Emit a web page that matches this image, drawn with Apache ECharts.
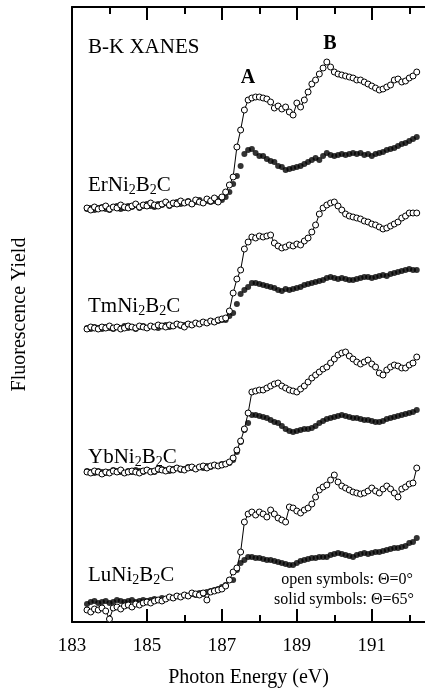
<!DOCTYPE html>
<html>
<head>
<meta charset="utf-8">
<title>B-K XANES</title>
<script src="https://cdn.jsdelivr.net/npm/echarts@6/dist/echarts.min.js"></script>
<style>
html, body { margin: 0; padding: 0; background: #fff; }
#chart { width: 425px; height: 700px; }
</style>
</head>
<body>
<div id="chart"></div>
<script>
// photon energy grid (eV)
var ENERGY = [183.4,183.5,183.6,183.7,183.8,183.9,184.0,184.1,184.2,184.3,184.4,184.5,184.6,184.7,184.8,184.9,
	185.0,185.1,185.2,185.3,185.4,185.5,185.6,185.7,185.8,185.9,186.0,186.1,186.2,186.3,186.4,186.5,186.6,186.7,186.8,186.9,
	187.0,187.1,187.2,187.3,187.4,187.5,187.6,187.7,187.8,187.9,188.0,188.1,188.2,188.3,188.4,188.5,188.6,188.7,188.8,188.9,
	189.0,189.1,189.2,189.3,189.4,189.5,189.6,189.7,189.8,189.9,190.0,190.1,190.2,190.3,190.4,190.5,190.6,190.7,190.8,190.9,
	191.0,191.1,191.2,191.3,191.4,191.5,191.6,191.7,191.8,191.9,192.0,192.1,192.2];

// fluorescence yield, arb. units, spectra shifted vertically
var ER_OPEN = [414,412,415,413,414,416,413,415,414,417,415,414,416,418,415,417,416,419,417,416,418,420,417,419,418,421,419,420,418,422,420,419,423,421,424,420,425,
	430,437,445,475,492,512,522,524,525,525,524,523,520,514,516,513,515,510,507,519,515,522,530,538,542,548,554,560,555,550,548,547,546,545,544,542,542,540,538,536,534,532,533,535,537,542,543,540,541,544,546,550];
var ER_SOLID = [413,414,412,414,415,413,412,415,416,413,414,416,415,417,414,416,418,416,415,418,417,419,416,418,420,418,419,421,418,420,422,419,421,420,421,423,422,
	425,430,438,446,456,468,472,473,469,466,466,463,461,460,456,455,452,453,454,455,456,458,460,462,464,462,466,469,467,466,467,468,467,468,469,468,469,467,468,466,468,469,470,472,473,474,476,478,479,481,483,485];
var TM_OPEN = [293,295,294,293,295,294,296,294,295,293,294,296,295,294,296,295,294,296,295,297,296,295,297,296,298,297,295,298,297,299,298,300,299,301,300,302,303,
	304,311,329,343,352,373,380,385,384,386,385,386,387,379,376,374,375,377,376,378,377,381,384,390,397,408,414,417,419,420,416,412,408,406,405,404,403,401,400,398,397,395,393,394,396,398,400,404,406,409,409,409];
var TM_SOLID = [294,293,295,294,293,295,294,293,295,294,296,294,295,293,295,296,294,296,295,294,296,297,295,296,298,296,297,298,297,299,298,300,299,301,300,301,302,
	302,306,309,318,328,332,335,339,339,338,337,336,335,334,332,331,333,332,333,334,335,337,338,339,340,341,342,344,345,344,343,344,343,342,342,343,344,345,345,344,345,346,347,346,348,349,350,351,352,353,352,352];
var YB_OPEN = [150,149,151,150,148,150,149,151,150,152,149,150,151,150,149,151,152,150,151,153,152,151,153,152,154,153,152,154,155,153,155,156,154,156,157,156,157,
	158,160,164,172,181,193,209,230,231,232,232,234,236,238,239,236,234,232,231,230,233,236,240,244,247,250,253,255,259,263,267,269,270,266,263,260,258,260,262,258,255,249,247,252,255,257,256,254,254,257,259,265];
var YB_SOLID = [151,150,149,151,150,149,150,152,151,150,149,151,150,152,151,150,152,151,150,152,153,152,151,153,154,152,153,155,154,153,155,154,156,155,157,156,158,
	158,159,162,170,180,192,199,207,207,206,205,204,202,200,199,196,193,191,190,191,192,193,193,194,196,199,201,203,204,205,206,207,206,205,204,204,203,202,202,201,200,200,201,203,204,205,206,207,208,209,210,212];
var LU_OPEN = [12,10,13,12,14,11,3,14,15,13,16,17,15,18,17,19,20,19,21,22,21,23,25,24,26,25,27,26,29,28,27,29,22,30,31,32,33,
	36,42,50,54,70,100,108,110,107,110,108,105,112,108,104,102,100,115,114,111,109,112,114,118,125,132,135,137,142,147,140,136,134,132,130,129,128,129,131,134,131,129,133,136,133,129,125,133,135,138,139,154];
var LU_SOLID = [18,20,21,19,20,21,19,20,22,21,20,21,22,20,21,22,21,22,23,22,24,23,25,24,26,25,27,26,28,27,29,28,30,31,32,33,35,
	37,42,42,52,59,62,65,65,64,64,63,62,62,61,60,59,58,57,57,59,61,62,63,64,64,65,65,65,67,68,69,68,67,66,65,67,68,69,68,69,70,70,71,72,73,74,74,75,76,79,80,84];

var MAJOR_TICKS = [183, 185, 187, 189, 191];
var MINOR_TICKS = [184, 186, 188, 190, 192];
var X_MIN = 183;
var X_MAX = 192.42;

var SERIF = "'Liberation Serif', 'DejaVu Serif', serif";

function pairs(values)
{
	return ENERGY.map(function(e, i){ return [e, values[i]]; });
}

function openSeries(values)
{
	return {
		type: "line",
		data: pairs(values),
		symbol: "circle",
		symbolSize: 6,
		showSymbol: true,
		showAllSymbol: true,
		itemStyle: { color: "#fff", borderColor: "#000", borderWidth: 1 },
		lineStyle: { color: "#000", width: 1 },
		z: 3
	};
}

function solidSeries(values)
{
	return {
		type: "scatter",
		data: pairs(values),
		symbol: "circle",
		symbolSize: 6,
		itemStyle: { color: "#000" },
		z: 2
	};
}

function xAxis(position, ticks, len, withLabels)
{
	return {
		type: "value",
		position: position,
		min: X_MIN,
		max: X_MAX,
		axisLine: { show: withLabels !== null, onZero: false, lineStyle: { color: "#000", width: 2 } },
		axisTick: { show: true, inside: true, length: len, customValues: ticks, lineStyle: { color: "#000", width: 2 } },
		axisLabel: withLabels ? { show: true, customValues: ticks, margin: 15, color: "#000", fontSize: 19, fontFamily: SERIF } : { show: false },
		splitLine: { show: false }
	};
}

function compound(el, y)
{
	return {
		type: "text",
		x: 88,
		y: y,
		style: {
			text: "{n|" + el + "Ni}{s|2}{n|B}{s|2}{n|C}",
			verticalAlign: "middle",
			rich: {
				n: { fontSize: 21, fontFamily: SERIF, fill: "#000" },
				s: { fontSize: 14, fontFamily: SERIF, fill: "#000", padding: [10, 0, 0, 0] }
			}
		}
	};
}

function note(text, x, y, opts)
{
	opts = opts || {};
	return {
		type: "text",
		x: x,
		y: y,
		style: {
			text: text,
			align: opts.align || "left",
			verticalAlign: "middle",
			fontSize: opts.size || 20,
			fontWeight: opts.bold ? "bold" : "normal",
			fontFamily: SERIF,
			fill: "#000"
		}
	};
}

var chart = echarts.init(document.getElementById("chart"));

var bottomAxis = xAxis("bottom", MAJOR_TICKS, 13, true);
bottomAxis.name = "Photon Energy (eV)";
bottomAxis.nameLocation = "middle";
bottomAxis.nameGap = 46;
bottomAxis.nameTextStyle = { color: "#000", fontSize: 20, fontFamily: SERIF };

var option = {
	animation: false,
	backgroundColor: "#fff",
	grid: { left: 72, right: 0, top: 7, bottom: 78, containLabel: false },
	xAxis: [
		bottomAxis,
		xAxis("bottom", MINOR_TICKS, 7, null),
		xAxis("top", MAJOR_TICKS, 13, false),
		xAxis("top", MINOR_TICKS, 7, null)
	],
	yAxis: {
		type: "value",
		min: 0,
		max: 615,
		name: "Fluorescence Yield",
		nameLocation: "middle",
		nameGap: 42,
		nameTextStyle: { color: "#000", fontSize: 20, fontFamily: SERIF },
		axisLine: { show: true, lineStyle: { color: "#000", width: 2 } },
		axisTick: { show: false },
		axisLabel: { show: false },
		splitLine: { show: false }
	},
	series: [
		solidSeries(ER_SOLID), openSeries(ER_OPEN),
		solidSeries(TM_SOLID), openSeries(TM_OPEN),
		solidSeries(YB_SOLID), openSeries(YB_OPEN),
		solidSeries(LU_SOLID), openSeries(LU_OPEN)
	],
	graphic: [
		note("B-K XANES", 88, 47, { size: 21 }),
		note("A", 248, 78, { align: "center", bold: true }),
		note("B", 330, 44, { align: "center", bold: true }),
		compound("Er", 185),
		compound("Tm", 306),
		compound("Yb", 457),
		compound("Lu", 575),
		note("open symbols: \u0398=0\u00b0", 413, 580, { align: "right", size: 16 }),
		note("solid symbols: \u0398=65\u00b0", 414, 600, { align: "right", size: 16 })
	]
};

chart.setOption(option);
</script>
</body>
</html>
